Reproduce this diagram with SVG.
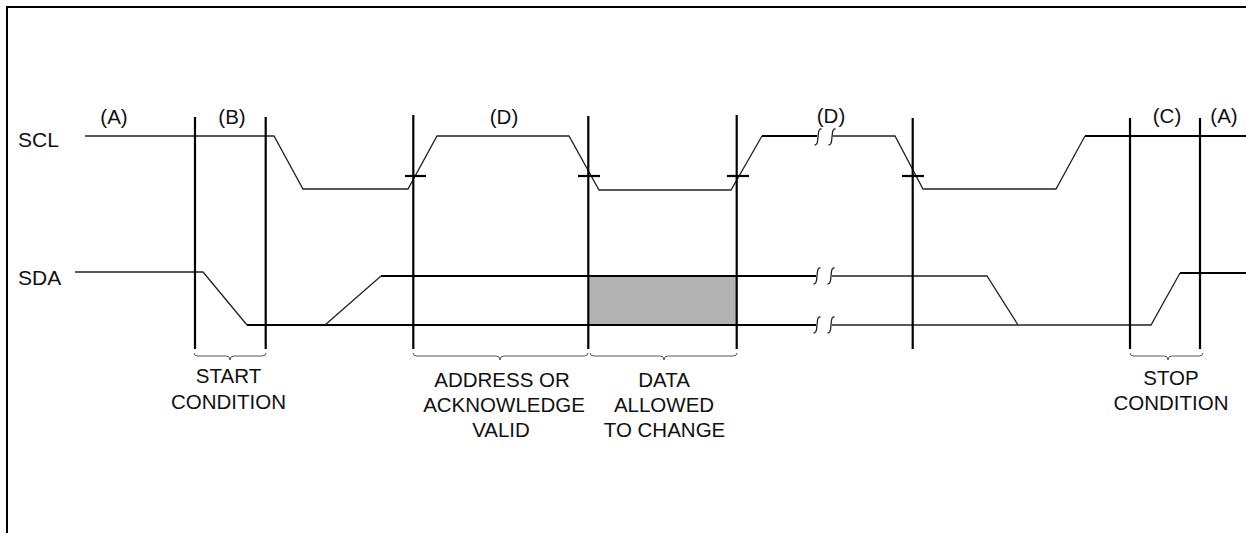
<svg xmlns="http://www.w3.org/2000/svg" width="1246" height="533" viewBox="0 0 1246 533">
<style>
.t{font-family:"Liberation Sans",Arial,sans-serif;font-size:20.5px;fill:#111}
.m{text-anchor:middle}
.thin{fill:none;stroke:#222;stroke-width:1.3;stroke-linejoin:miter}
.thick{fill:none;stroke:#000;stroke-width:2}
.v{stroke:#000;stroke-width:2.2}
.brace{fill:none;stroke:#555;stroke-width:1}
.brk{fill:none;stroke:#222;stroke-width:1.3}
</style>
<defs>
<path id="brk" class="brk" d="M3.5 -8 q-2.5 -0.5 -3 3.5 l-1 9 q-0.5 3.5 -3 3.5"/>
</defs>
<rect width="1246" height="533" fill="#fff"/>
<path d="M7 533 V7 H1246" fill="none" stroke="#000" stroke-width="2"/>

<g id="labels">
<text class="t" x="18" y="147" style="font-size:21px">SCL</text>
<text class="t" x="18" y="285" style="font-size:21px">SDA</text>
<text class="t m" x="114" y="124">(A)</text>
<text class="t m" x="232" y="124">(B)</text>
<text class="t m" x="504" y="124">(D)</text>
<text class="t m" x="831" y="123">(D)</text>
<text class="t m" x="1167" y="123">(C)</text>
<text class="t m" x="1224" y="123">(A)</text>
</g>

<g id="scl">
<polyline class="thin" points="85,136 274,136 303,189 408,189 437,136 569,136 599,190 731,190 762,136"/>
<line class="thick" x1="762" y1="136" x2="817" y2="136"/>
<polyline class="thin" points="833,136 895,136 923,189 1056,189 1085,136"/>
<line class="thick" x1="1085" y1="136" x2="1246" y2="136"/>
</g>

<g id="sda">
<polyline class="thin" points="75,272 203,272 247,325"/>
<line class="thick" x1="247" y1="325" x2="816" y2="325"/>
<line class="thin" x1="325" y1="325" x2="381" y2="276"/>
<line class="thick" x1="381" y1="276" x2="816" y2="276"/>
<polyline class="thin" points="832,276 987,276 1018,325"/>
<polyline class="thin" points="832,325 1151,325 1180,273"/>
<line class="thick" x1="1180" y1="273" x2="1246" y2="273"/>
</g>

<g id="data-window">
<rect x="588" y="276" width="149" height="48" fill="#b3b3b3"/>
<line class="thick" x1="588" y1="276" x2="737" y2="276"/>
<line class="thick" x1="588" y1="325" x2="737" y2="325"/>
</g>

<g id="breaks">
<use href="#brk" x="818" y="137"/>
<use href="#brk" x="832" y="137"/>
<use href="#brk" x="817" y="276"/>
<use href="#brk" x="831" y="276"/>
<use href="#brk" x="817" y="325"/>
<use href="#brk" x="831" y="325"/>
</g>

<g id="markers">
<line class="v" x1="195" y1="117" x2="195" y2="349"/>
<line class="v" x1="265.7" y1="117" x2="265.7" y2="349"/>
<line class="v" x1="413.3" y1="115" x2="413.3" y2="349"/>
<line class="v" x1="588.3" y1="116" x2="588.3" y2="349"/>
<line class="v" x1="736.7" y1="115" x2="736.7" y2="349"/>
<line class="v" x1="912.7" y1="118" x2="912.7" y2="349"/>
<line class="v" x1="1130" y1="118" x2="1130" y2="349"/>
<line class="v" x1="1200" y1="118" x2="1200" y2="349"/>
<line class="v" x1="405" y1="176" x2="426" y2="176"/>
<line class="v" x1="578" y1="176" x2="600" y2="176"/>
<line class="v" x1="727" y1="176" x2="749" y2="176"/>
<line class="v" x1="902" y1="176" x2="924" y2="176"/>
</g>

<g id="start-condition">
<path class="brace" d="M194 353 q0 3 4 3 H226 q4 0 4 4 q0 -4 4 -4 H262 q4 0 4 -3"/>
<text class="t m" x="228.5" y="383">START</text>
<text class="t m" x="228.5" y="409">CONDITION</text>
</g>

<g id="address-valid">
<path class="brace" d="M413 353 q0 3 4 3 H496 q4 0 4 4 q0 -4 4 -4 H584 q4 0 4 -3"/>
<text class="t m" x="502" y="387">ADDRESS OR</text>
<text class="t m" x="504" y="412">ACKNOWLEDGE</text>
<text class="t m" x="501" y="437">VALID</text>
</g>

<g id="data-change">
<path class="brace" d="M590 353 q0 3 4 3 H660 q4 0 4 4 q0 -4 4 -4 H733 q4 0 4 -3"/>
<text class="t m" x="664" y="387">DATA</text>
<text class="t m" x="664" y="412">ALLOWED</text>
<text class="t m" x="664.5" y="437">TO CHANGE</text>
</g>

<g id="stop-condition">
<path class="brace" d="M1130 353 q0 3 4 3 H1164 q4 0 4 4 q0 -4 4 -4 H1199 q4 0 4 -3"/>
<text class="t m" x="1171" y="385">STOP</text>
<text class="t m" x="1171" y="410">CONDITION</text>
</g>
</svg>
